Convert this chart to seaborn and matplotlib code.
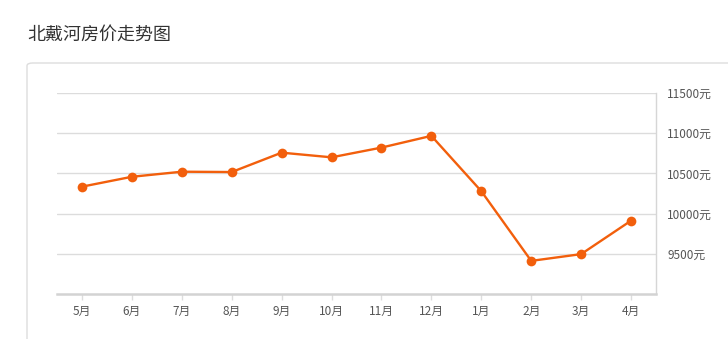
import matplotlib
matplotlib.use("Agg")
import matplotlib.pyplot as plt
from matplotlib.patches import FancyBboxPatch
import seaborn as sns
import pandas as pd

months = ["5月", "6月", "7月", "8月", "9月", "10月", "11月", "12月", "1月", "2月", "3月", "4月"]
prices = [10335, 10458, 10521, 10517, 10758, 10700, 10821, 10967, 10279, 9412, 9496, 9912]
yticks = [9500, 10000, 10500, 11000, 11500]
ytick_labels = ["9500元", "10000元", "10500元", "11000元", "11500元"]
title = "北戴河房价走势图"

sns.set_theme(style="white")
plt.rcParams['font.family'] = ['Noto Sans CJK SC', 'DejaVu Sans']

W, H = 728, 339
fig = plt.figure(figsize=(W / 100, H / 100), dpi=100)
fig.patch.set_facecolor("white")

# card border
card = FancyBboxPatch((27 / W, -0.1), 1.2, (339 - 63) / H + 0.1,
                      boxstyle="round,pad=0,rounding_size=0.008",
                      transform=fig.transFigure, facecolor="none",
                      edgecolor="#dddddd", linewidth=1.0, zorder=-10)
fig.patches.append(card)

fig.text(27 / W, 1 - 35 / H, title, fontsize=13, color="#333333",
         ha="left", va="center")

ax = fig.add_axes([57 / W, (H - 294) / H, (656 - 57) / W, (294 - 93) / H])
ax.set_facecolor("none")
ax.set_zorder(5)

df = pd.DataFrame({"month": months, "price": prices})
df["idx"] = range(len(months))
sns.lineplot(data=df, x="idx", y="price", ax=ax, color="#f25f0c",
             linewidth=1.7, marker="o", markersize=7, markeredgewidth=0,
             zorder=5)

ax.set_xlim(-0.5, len(months) - 0.5)
ax.set_ylim(9000, 11500)
ax.set_xticks(range(len(months)))
ax.set_xticklabels(months)
ax.set_yticks(yticks)
ax.set_yticklabels(ytick_labels)
ax.yaxis.tick_right()
ax.set_xlabel("")
ax.set_ylabel("")

for y in yticks:
    ax.axhline(y, color="#dcdcdc", linewidth=1.0, zorder=1)

for s in ["top", "left"]:
    ax.spines[s].set_visible(False)
ax.spines["right"].set_color("#d6d6d6")
ax.spines["right"].set_linewidth(1.0)
ax.spines["bottom"].set_color("#d3d3d3")
ax.spines["bottom"].set_linewidth(1.8)

ax.tick_params(axis="x", length=4, width=1, color="#dddddd", labelsize=8.5,
               labelcolor="#555555", pad=4, bottom=True)
ax.tick_params(axis="y", length=0, labelsize=8.5, labelcolor="#555555",
               pad=8, right=True)

fig.savefig("out.png", dpi=100, facecolor="white")
